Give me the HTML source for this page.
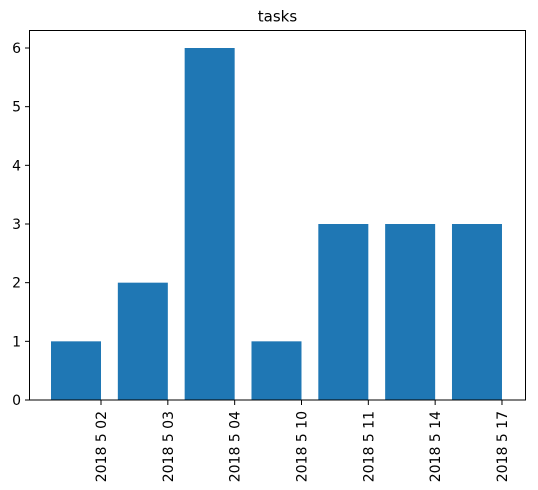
<!DOCTYPE html>
<html><head><meta charset="utf-8"><style>
html,body{margin:0;padding:0;background:#fff;}
svg{display:block;font-family:"DejaVu Sans","Liberation Sans",sans-serif;}
</style></head><body>
<svg id="chart" width="538" height="490" viewBox="0 0 538 490" xmlns="http://www.w3.org/2000/svg">
<text x="277.5" y="21.5" font-size="15" text-anchor="middle" fill="#000">tasks</text>
<g id="bars"></g>
<g id="yaxis"></g>
<g id="xaxis"></g>
<rect x="29.5" y="30.5" width="496" height="369.5" fill="none" stroke="#000" stroke-width="1"/>
</svg>
<script>
const categories = ["2018 5 02","2018 5 03","2018 5 04","2018 5 10","2018 5 11","2018 5 14","2018 5 17"];
const taskCounts = [1,2,6,1,3,3,3];
const yTicks = [0,1,2,3,4,5,6];

const NS = "http://www.w3.org/2000/svg";
const y0 = 400, yUnit = (400-48)/6;
const xStart = 51, step = 66.83, barW = 50;
function yScale(v){ return y0 - v*yUnit; }
function xScale(i){ return xStart + i*step; }

const bars = document.getElementById('bars');
taskCounts.forEach((v,i)=>{
  const r = document.createElementNS(NS,'rect');
  
  
  r.setAttribute('x', xScale(i));
  r.setAttribute('y', yScale(v));
  r.setAttribute('width', barW);
  r.setAttribute('height', y0 - yScale(v));
  r.setAttribute('fill','#1f77b4');
  bars.appendChild(r);
});

const ya = document.getElementById('yaxis');
yTicks.forEach(t=>{
  const y = yScale(t);
  const l = document.createElementNS(NS,'line');
  
  
  l.setAttribute('x1',25); l.setAttribute('x2',29.5);
  l.setAttribute('y1',y); l.setAttribute('y2',y);
  l.setAttribute('stroke','#000');
  ya.appendChild(l);
  const tx = document.createElementNS(NS,'text');
  
  
  tx.setAttribute('x',21); tx.setAttribute('y',y+5);
  tx.setAttribute('font-size','14');
  tx.setAttribute('text-anchor','end');
  tx.textContent = t;
  ya.appendChild(tx);
});

const xa = document.getElementById('xaxis');
categories.forEach((c,i)=>{
  const x = xScale(i) + barW;
  const l = document.createElementNS(NS,'line');
  
  
  l.setAttribute('x1',x); l.setAttribute('x2',x);
  l.setAttribute('y1',400); l.setAttribute('y2',405);
  l.setAttribute('stroke','#000');
  xa.appendChild(l);
  const tx = document.createElementNS(NS,'text');
  
  
  tx.setAttribute('font-size','14');
  tx.setAttribute('text-anchor','end');
  tx.setAttribute('transform','translate('+(x+5)+',411) rotate(-90)');
  tx.textContent = c;
  xa.appendChild(tx);
});
</script>
</body></html>
